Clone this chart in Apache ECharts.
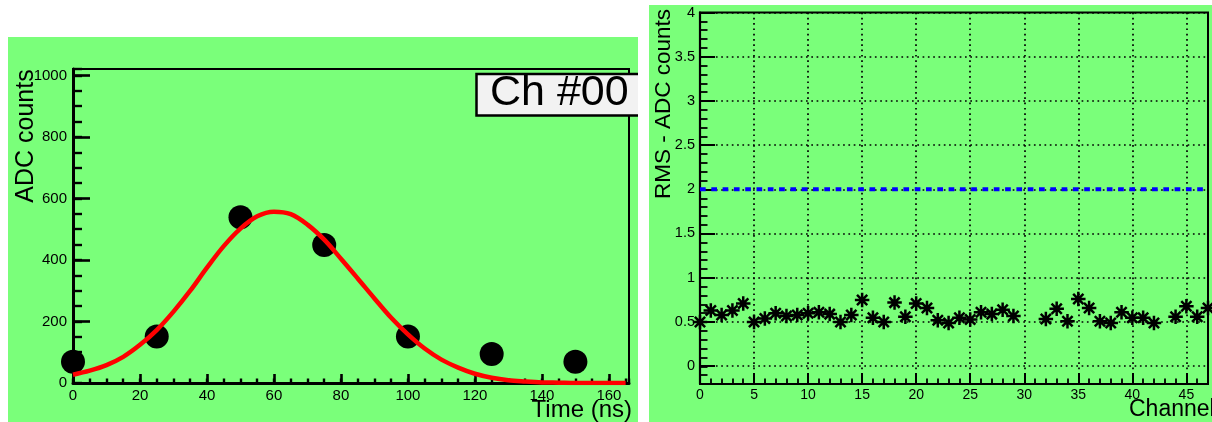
<!DOCTYPE html>
<html>
<head>
<meta charset="utf-8">
<script src="https://cdn.jsdelivr.net/npm/echarts@6/dist/echarts.min.js"></script>
<style>
  html, body { margin: 0; padding: 0; background: #ffffff; width: 1212px; height: 422px; overflow: hidden; }
  .panel { position: absolute; background: #7aff7a; }
  #chart { position: absolute; left: 0; top: 0; width: 1212px; height: 422px; }
</style>
</head>
<body>
<div class="panel" style="left:8px;top:37px;width:630px;height:385px;"></div>
<div class="panel" style="left:649px;top:5px;width:563px;height:417px;"></div>
<div id="chart"></div>
<script>
// ---- Left pad: pulse samples ----
const sampleTimes = [0, 25, 50, 75, 100, 125, 150];
const sampleAdc   = [69, 151, 539, 449, 151, 94, 69];

// fitted curve (every 5 ns)
const fitTimes = [0, 5, 10, 15, 20, 25, 30, 35, 40, 45, 50, 55, 60, 65, 70, 75, 80, 85,
                  90, 95, 100, 105, 110, 115, 120, 125, 130, 135, 140, 145, 150, 155, 160, 165];
const fitAdc   = [27, 40, 58, 85, 124, 172, 232, 300, 375, 445, 502, 542, 557, 549, 515, 466, 404, 340,
                  275, 212, 158, 112, 76, 50, 30, 17, 9, 5, 2, 1, 0, 0, 0, 0];

const leftTitle = "Ch #00";

// ---- Right pad: RMS per channel ----
const channels = [0,1,2,3,4,5,6,7,8,9,10,11,12,13,14,15,16,17,18,19,20,21,22,23,
                  24,25,26,27,28,29,30,31,32,33,34,35,36,37,38,39,40,41,42,43,44,45,46,47];
const rmsValues = [0.50,0.63,0.58,0.63,0.71,0.50,0.54,0.60,0.57,0.58,0.60,0.61,0.59,0.50,0.58,0.75,
                   0.55,0.50,0.72,0.56,0.71,0.66,0.52,0.49,0.55,0.53,0.61,0.59,0.64,0.57,null,null,
                   0.535,0.65,0.51,0.76,0.66,0.51,0.49,0.61,0.55,0.55,0.49,null,0.56,0.68,0.56,0.66];
const thresholdChannels = [0, 47];
const thresholdRms = [2, 2];

const FONT = "'Liberation Sans', Arial, Helvetica, sans-serif";
const starPath = 'path://M0,6.5L13,6.5M6.5,0L6.5,13M1.9,1.9L11.1,11.1M11.1,1.9L1.9,11.1';

const chart = echarts.init(document.getElementById('chart'), null, { renderer: 'canvas' });

const blackLine = (w) => ({ color: '#000', width: w });
const plainNum = (v) => String(Math.round(v * 1000) / 1000);

const option = {
  animation: false,
  backgroundColor: 'transparent',
  textStyle: { fontFamily: FONT },
  grid: [
    { left: 73, top: 69, width: 556, height: 314, show: true, borderColor: '#000', borderWidth: 2, backgroundColor: 'transparent' },
    { left: 700, top: 12.5, width: 508, height: 371.5, show: true, borderColor: '#000', borderWidth: 2, backgroundColor: 'transparent' },
    { left: 700, top: 12.5, width: 508, height: 353.5, show: false }
  ],
  xAxis: [
    { // 0 left minor ticks
      type: 'value', gridIndex: 0, min: 0, max: 166, interval: 5, position: 'bottom',
      axisLine: { show: true, onZero: false, lineStyle: blackLine(3) },
      axisTick: { show: true, inside: true, length: 4.5, lineStyle: blackLine(2.4) },
      axisLabel: { show: false }, splitLine: { show: false }
    },
    { // 1 left major
      type: 'value', gridIndex: 0, min: 0, max: 166, interval: 20, position: 'bottom',
      axisLine: { show: false, onZero: false },
      axisTick: { show: true, inside: true, length: 9, lineStyle: blackLine(2.6) },
      axisLabel: { show: true, color: '#000', fontSize: 15, margin: 5, showMaxLabel: false, fontFamily: FONT, formatter: plainNum },
      splitLine: { show: false }
    },
    { // 2 right minor
      type: 'value', gridIndex: 1, min: 0, max: 47, interval: 1, position: 'bottom',
      axisLine: { show: true, onZero: false, lineStyle: blackLine(2.2) },
      axisTick: { show: true, inside: true, length: 5.5, lineStyle: blackLine(1.8) },
      axisLabel: { show: false }, splitLine: { show: false }
    },
    { // 3 right major
      type: 'value', gridIndex: 1, min: 0, max: 47, interval: 5, position: 'bottom',
      axisLine: { show: false, onZero: false },
      axisTick: { show: true, inside: true, length: 11, lineStyle: blackLine(2) },
      axisLabel: { show: true, color: '#000', fontSize: 14, margin: 4, showMaxLabel: false, fontFamily: FONT, formatter: plainNum },
      splitLine: { show: true, lineStyle: { color: '#000', width: 1.7, type: [1.7, 3.6] } }
    },
    { // 4 helper for grid 2
      type: 'value', gridIndex: 2, min: 0, max: 47, show: false, axisLine: { onZero: false }
    }
  ],
  yAxis: [
    { // 0 left minor
      type: 'value', gridIndex: 0, min: 0, max: 1021, interval: 50, position: 'left',
      axisLine: { show: true, onZero: false, lineStyle: blackLine(3) },
      axisTick: { show: true, inside: true, length: 9, lineStyle: blackLine(2.4) },
      axisLabel: { show: false }, splitLine: { show: false }
    },
    { // 1 left major
      type: 'value', gridIndex: 0, min: 0, max: 1021, interval: 200, position: 'left',
      axisLine: { show: false, onZero: false },
      axisTick: { show: true, inside: true, length: 17, lineStyle: blackLine(2.6) },
      axisLabel: { show: true, color: '#000', fontSize: 15, margin: 6, showMaxLabel: false, fontFamily: FONT, formatter: plainNum },
      splitLine: { show: false }
    },
    { // 2 right minor
      type: 'value', gridIndex: 1, min: -0.2, max: 4, interval: 0.1, position: 'left',
      axisLine: { show: true, onZero: false, lineStyle: blackLine(2.2) },
      axisTick: { show: true, inside: true, length: 7.5, lineStyle: blackLine(1.8) },
      axisLabel: { show: false }, splitLine: { show: false }
    },
    { // 3 right major (grid 2: 0..4)
      type: 'value', gridIndex: 2, min: 0, max: 4, interval: 0.5, position: 'left',
      axisLine: { show: false, onZero: false },
      axisTick: { show: true, inside: true, length: 15, lineStyle: blackLine(2) },
      axisLabel: { show: true, color: '#000', fontSize: 14.5, margin: 5, fontFamily: FONT, formatter: plainNum },
      splitLine: { show: true, lineStyle: { color: '#000', width: 1.7, type: [1.7, 3.6] } }
    }
  ],
  series: [
    {
      type: 'scatter', xAxisIndex: 1, yAxisIndex: 1,
      symbol: 'circle', symbolSize: 24,
      itemStyle: { color: '#000', opacity: 1 },
      data: sampleTimes.map((t, i) => [t, sampleAdc[i]]),
      z: 3
    },
    {
      type: 'line', xAxisIndex: 1, yAxisIndex: 1,
      smooth: 0.35, showSymbol: false, symbol: 'none',
      lineStyle: { color: '#ff0000', width: 4.5 },
      data: fitTimes.map((t, i) => [t, fitAdc[i]]),
      z: 4
    },
    {
      type: 'line', xAxisIndex: 4, yAxisIndex: 3,
      showSymbol: false, symbol: 'none',
      lineStyle: { color: '#0000ff', width: 4, type: [5.7, 5.6] },
      data: thresholdChannels.map((c, i) => [c, thresholdRms[i]]),
      z: 3
    },
    {
      type: 'scatter', xAxisIndex: 3, yAxisIndex: 2,
      symbol: starPath, symbolSize: 14.5, clip: false,
      itemStyle: { color: '#000', borderColor: '#000', borderWidth: 2.5, opacity: 1 },
      data: channels.map((c, i) => [c, rmsValues[i]]).filter(d => d[1] !== null),
      z: 4
    }
  ],
  graphic: [
    { type: 'text', x: 26, y: 136, rotation: Math.PI / 2, z: 50,
      style: { text: 'ADC counts', font: '25px ' + FONT, fill: '#000', textAlign: 'center', textVerticalAlign: 'middle' } },
    { type: 'text', x: 632, y: 410, z: 50,
      style: { text: 'Time (ns)', font: '24px ' + FONT, fill: '#000', textAlign: 'right', textVerticalAlign: 'middle' } },
    { type: 'text', x: 664, y: 104, rotation: Math.PI / 2, z: 50,
      style: { text: 'RMS - ADC counts', font: '22.5px ' + FONT, fill: '#000', textAlign: 'center', textVerticalAlign: 'middle' } },
    { type: 'text', x: 1129, y: 410, z: 50,
      style: { text: 'Channel', font: '23px ' + FONT, fill: '#000', textAlign: 'left', textVerticalAlign: 'middle' } },
    { type: 'rect', z: 60, shape: { x: 476, y: 74, width: 162, height: 42 },
      style: { fill: '#f2f2f2', stroke: null } },
    { type: 'polyline', z: 61, shape: { points: [[638, 74], [476.5, 74], [476.5, 115.5], [638, 115.5]] },
      style: { stroke: '#000', lineWidth: 2.5, fill: null } },
    { type: 'text', x: 490, y: 93, z: 62,
      style: { text: leftTitle, font: '43px ' + FONT, fill: '#000', textAlign: 'left', textVerticalAlign: 'middle' } }
  ]
};

chart.setOption(option);
</script>
</body>
</html>
